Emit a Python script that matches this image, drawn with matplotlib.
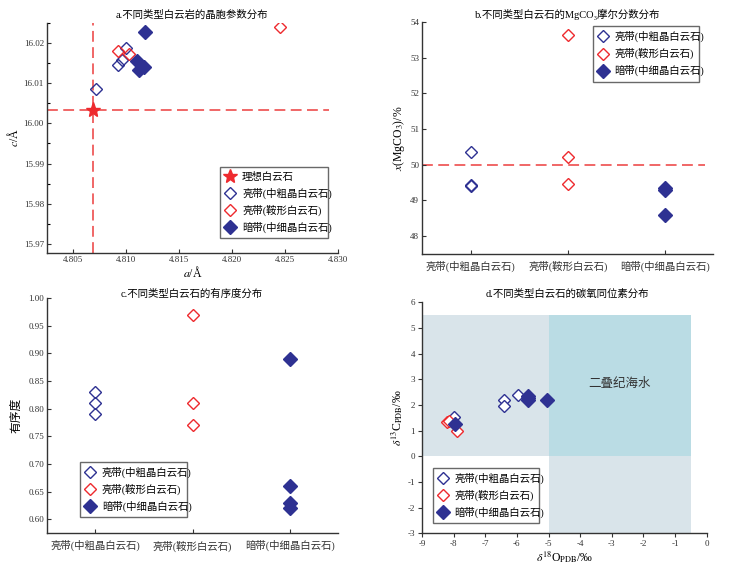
import matplotlib
matplotlib.use("Agg")
import matplotlib.pyplot as plt
from matplotlib.lines import Line2D
from matplotlib.ticker import MultipleLocator

plt.rcParams['font.family'] = ['Liberation Serif', 'Noto Sans CJK SC', 'DejaVu Serif']
plt.rcParams['mathtext.fontset'] = 'stix'
plt.rcParams['axes.unicode_minus'] = False

# ---------------- data ----------------
labels = ['亮带(中粗晶白云石)', '亮带(鞍形白云石)', '暗带(中细晶白云石)']
ideal_label = '理想白云石'

# a. cell parameters
ideal_a = 4.8069
ideal_c = 16.0034
a_blue_open = [4.8072, 4.80925, 4.8096, 4.8100]
c_blue_open = [16.0086, 16.0145, 16.0158, 16.0187]
a_red_open = [4.80925, 4.8103, 4.8245]
c_red_open = [16.0179, 16.0172, 16.0239]
a_blue_fill = [4.8118, 4.8110, 4.8112, 4.8117]
c_blue_fill = [16.0227, 16.0154, 16.0133, 16.0141]

# b. MgCO3 mole fraction
mg_blue_open = [50.35, 49.42, 49.40]
mg_red_open = [53.63, 50.22, 49.46]
mg_blue_fill = [49.34, 49.30, 48.59]
mg_ref = 50.0

# c. ordering degree
ord_blue_open = [0.83, 0.81, 0.79]
ord_red_open = [0.97, 0.81, 0.77]
ord_blue_fill = [0.89, 0.66, 0.63, 0.62]

# d. C-O isotopes
o_blue_open = [-7.98, -6.40, -6.40, -5.97]
c13_blue_open = [1.55, 2.21, 1.94, 2.39]
o_red_open = [-8.21, -8.15, -7.90]
c13_red_open = [1.32, 1.37, 0.97]
o_blue_fill = [-7.95, -5.66, -5.66, -5.66, -5.05]
c13_blue_fill = [1.26, 2.35, 2.27, 2.19, 2.18]
seawater_label = '二叠纪海水'

BLUE = '#2e3192'
RED = '#ee2a2e'
DASH = '#ef5a5a'
LIGHT = '#d9e4ea'
DARK = '#badce4'

ms_open = 6.5
ms_fill = 7.5
fs_tick = 6.5
fs_lab = 7.5
fs_title = 7.5
fs_leg = 7.5

fig = plt.figure(figsize=(7.32, 5.68), dpi=100)

def style(ax, direction='in'):
    for s in ['top', 'right']:
        ax.spines[s].set_visible(False)
    for s in ['left', 'bottom']:
        ax.spines[s].set_linewidth(1.0)
        ax.spines[s].set_color('#333333')
    ax.tick_params(direction=direction, length=3, width=0.8, labelsize=fs_tick, colors='#333333', pad=2)
    ax.tick_params(which='minor', direction=direction, length=2, width=0.8)

def legend(ax, handles, bbox):
    leg = ax.legend(handles=handles, loc='lower left', bbox_to_anchor=bbox, mode='expand',
                    fontsize=fs_leg, frameon=True, fancybox=False, handlelength=1.0,
                    handletextpad=0.6, borderpad=0.5, labelspacing=0.55, borderaxespad=0)
    leg.get_frame().set_edgecolor('#444444')
    leg.get_frame().set_linewidth(1.0)
    return leg

h_blue_open = Line2D([], [], ls='none', marker='D', ms=ms_open, mfc='none', mec=BLUE, mew=1.0, label=labels[0])
h_red_open = Line2D([], [], ls='none', marker='D', ms=ms_open, mfc='none', mec=RED, mew=1.0, label=labels[1])
h_blue_fill = Line2D([], [], ls='none', marker='D', ms=ms_fill, mfc=BLUE, mec=BLUE, label=labels[2])
h_star = Line2D([], [], ls='none', marker='*', ms=10, mfc=RED, mec=RED, label=ideal_label)

# ---------- a ----------
ax = fig.add_axes([0.0638, 0.5546, 0.398, 0.4055])
style(ax)
ax.set_xlim(4.8025, 4.830)
ax.set_ylim(15.9678, 16.025)
ax.set_xticks([4.805, 4.810, 4.815, 4.820, 4.825, 4.830])
ax.set_xticklabels(['4.805', '4.810', '4.815', '4.820', '4.825', '4.830'])
ax.set_yticks([15.97, 15.98, 15.99, 16.00, 16.01, 16.02])
ax.set_yticklabels(['15.97', '15.98', '15.99', '16.00', '16.01', '16.02'])
ax.yaxis.set_minor_locator(MultipleLocator(0.005))
ax.axhline(ideal_c, xmax=0.97, color=DASH, ls=(0, (6, 3)), lw=1.3, zorder=1)
ax.axvline(ideal_a, color=DASH, ls=(0, (6, 3)), lw=1.3, zorder=1)
ax.plot([ideal_a], [ideal_c], ls='none', marker='*', ms=11, color=RED, zorder=3)
ax.plot(a_blue_open, c_blue_open, ls='none', marker='D', ms=ms_open, mfc='none', mec=BLUE, mew=1.0)
ax.plot(a_red_open, c_red_open, ls='none', marker='D', ms=ms_open, mfc='none', mec=RED, mew=1.0)
ax.plot(a_blue_fill, c_blue_fill, ls='none', marker='D', ms=ms_fill, mfc=BLUE, mec=BLUE)
ax.set_xlabel('$a$/Å', fontsize=fs_lab + 1, labelpad=1)
ax.set_ylabel('$c$/Å', fontsize=fs_lab + 1, labelpad=2)
legend(ax, [h_star, h_blue_open, h_red_open, h_blue_fill], (0.595, 0.065, 0.371, 0.287))
fig.text(0.262, 0.974, 'a.不同类型白云岩的晶胞参数分布', ha='center', va='center', fontsize=fs_title)

# ---------- b ----------
ax = fig.add_axes([0.5765, 0.5528, 0.398, 0.4085])
style(ax)
ax.set_xlim(-0.5, 2.5)
ax.set_ylim(47.5, 54)
ax.set_yticks([48, 49, 50, 51, 52, 53, 54])
ax.set_xticks([0, 1, 2])
ax.set_xticklabels(labels, fontsize=fs_lab)
ax.tick_params(axis='x', pad=5)
ax.axhline(mg_ref, xmax=0.97, color=DASH, ls=(0, (6, 3)), lw=1.3, zorder=1)
ax.plot([0] * len(mg_blue_open), mg_blue_open, ls='none', marker='D', ms=ms_open, mfc='none', mec=BLUE, mew=1.0)
ax.plot([1] * len(mg_red_open), mg_red_open, ls='none', marker='D', ms=ms_open, mfc='none', mec=RED, mew=1.0)
ax.plot([2] * len(mg_blue_fill), mg_blue_fill, ls='none', marker='D', ms=ms_fill, mfc=BLUE, mec=BLUE)
ax.set_ylabel('$x$(MgCO$_3$)/%', fontsize=fs_lab + 1, labelpad=2)
legend(ax, [h_blue_open, h_red_open, h_blue_fill], (0.586, 0.743, 0.366, 0.237))
fig.text(0.775, 0.974, 'b.不同类型白云石的MgCO\u2083摩尔分数分布', ha='center', va='center', fontsize=fs_title)

# ---------- c ----------
ax = fig.add_axes([0.0638, 0.0611, 0.3984, 0.4143])
style(ax)
ax.set_xlim(-0.5, 2.5)
ax.set_ylim(0.575, 1.0)
ax.set_yticks([0.60, 0.65, 0.70, 0.75, 0.80, 0.85, 0.90, 0.95, 1.00])
ax.set_yticklabels(['0.60', '0.65', '0.70', '0.75', '0.80', '0.85', '0.90', '0.95', '1.00'])
ax.set_xticks([0, 1, 2])
ax.set_xticklabels(labels, fontsize=fs_lab)
ax.tick_params(axis='x', pad=5)
ax.plot([0] * len(ord_blue_open), ord_blue_open, ls='none', marker='D', ms=ms_open, mfc='none', mec=BLUE, mew=1.0)
ax.plot([1] * len(ord_red_open), ord_red_open, ls='none', marker='D', ms=ms_open, mfc='none', mec=RED, mew=1.0)
ax.plot([2] * len(ord_blue_fill), ord_blue_fill, ls='none', marker='D', ms=ms_fill, mfc=BLUE, mec=BLUE)
ax.set_ylabel('有序度', fontsize=fs_lab + 1, labelpad=4)
legend(ax, [h_blue_open, h_red_open, h_blue_fill], (0.114, 0.068, 0.366, 0.219))
fig.text(0.262, 0.482, 'c.不同类型白云石的有序度分布', ha='center', va='center', fontsize=fs_title)

# ---------- d ----------
ax = fig.add_axes([0.5765, 0.0611, 0.389, 0.4067])
style(ax, direction='out')
ax.set_xlim(-9, 0)
ax.set_ylim(-3, 6)
ax.set_xticks(range(-9, 1))
ax.set_yticks(range(-3, 7))
ax.axvspan(-9, -5, ymin=3 / 9, ymax=8.5 / 9, color=LIGHT, lw=0, zorder=0)
ax.axvspan(-5, -0.5, ymin=0, ymax=3 / 9, color=LIGHT, lw=0, zorder=0)
ax.axvspan(-5, -0.5, ymin=3 / 9, ymax=8.5 / 9, color=DARK, lw=0, zorder=0)
ax.text(-2.75, 2.8, seawater_label, ha='center', va='center', fontsize=9, color='#333333')
ax.plot(o_blue_open, c13_blue_open, ls='none', marker='D', ms=ms_open, mfc='white', mec=BLUE, mew=1.0)
ax.plot(o_red_open, c13_red_open, ls='none', marker='D', ms=ms_open, mfc='white', mec=RED, mew=1.0)
ax.plot(o_blue_fill, c13_blue_fill, ls='none', marker='D', ms=ms_fill, mfc=BLUE, mec=BLUE)
ax.set_xlabel('$\\delta^{18}$O$_{\\rm PDB}$/‰', fontsize=fs_lab + 1, labelpad=1)
ax.set_ylabel('$\\delta^{13}$C$_{\\rm PDB}$/‰', fontsize=fs_lab + 1, labelpad=2)
legend(ax, [h_blue_open, h_red_open, h_blue_fill], (0.0375, 0.043, 0.3745, 0.235))
fig.text(0.775, 0.482, 'd.不同类型白云石的碳氧同位素分布', ha='center', va='center', fontsize=fs_title)

fig.savefig('out.png', dpi=100)
